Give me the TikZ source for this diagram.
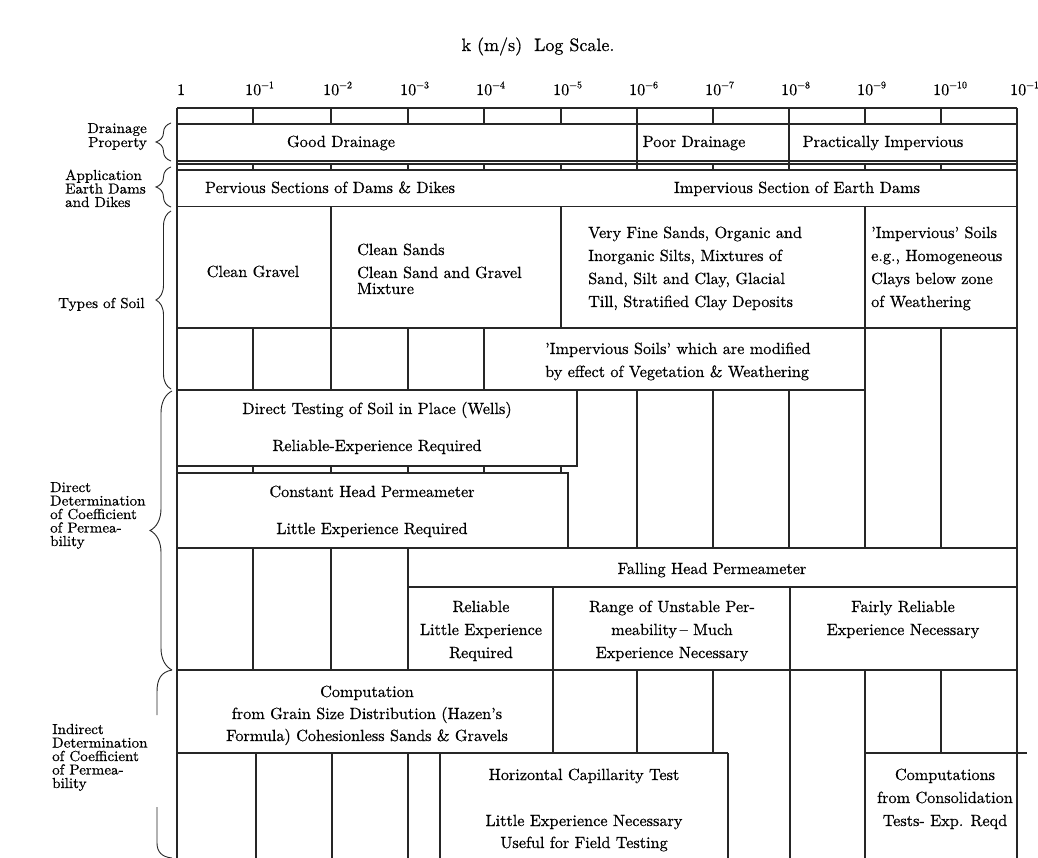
\documentclass[tikz,border=0pt]{standalone}
\usepackage{fontspec}
\setmainfont{lmroman10-regular.otf}[FakeBold=0.6]
\newfontfamily\sidefnt{lmroman10-regular.otf}[FakeStretch=1.04,FakeBold=0.6]
\usetikzlibrary{decorations.pathreplacing}
\newcommand\tkx[1]{10\raisebox{0.42em}{\fontsize{10}{10}\selectfont −#1}}
\begin{document}
\begin{tikzpicture}[x=1pt,y=-1pt,
  grid/.style={line width=1.1pt, black!85},
  cell/.style={font=\fontsize{16.2}{23}\selectfont, inner sep=0pt, anchor=base, align=center},
  cellL/.style={font=\fontsize{16.2}{23}\selectfont, inner sep=0pt, anchor=base west, align=left},
  side/.style={font=\sidefnt\fontsize{14.5}{13.5}\selectfont, inner sep=0pt, anchor=base west, align=left},
  tick/.style={font=\fontsize{16}{18}\selectfont, inner sep=0pt, anchor=base west},
  brc/.style={decorate, decoration={brace, amplitude=#1}, line width=0.9pt, black!85},
  brl/.style={line width=0.9pt, black!85},
]
\useasboundingbox (0,0) rectangle (1038,858);
\fill[white] (0,0) rectangle (1038,858);
\clip (0,0) rectangle (1038,858);

% ---------- title and scale ----------
\node[cell, font=\fontsize{18}{20}\selectfont] (title) at (538,51) {k (m/s)\ \ Log Scale.};
\node[tick] (t0) at (177,95) {1};
\foreach \x/\n [count=\i] in {253/1,331/2,408/3,484/4,561/5,637/6,713/7,789/8,865/9,941/10,1018/11}
  \node[tick] (t\i) at (\x-8,95) {\tkx{\n}};

% ---------- grid ----------
\draw[grid] (177,108) -- (177,862);
\draw[grid] (1017,108) -- (1017,862);
\draw[grid] (177,108) -- (1017,108);
\draw[grid] (177,124) -- (1017,124);
\foreach \x in {253,331,408,484,561,637,713,789,865,941} \draw[grid] (\x,108) -- (\x,124);
\draw[grid] (637,124) -- (637,170);
\draw[grid] (789,124) -- (789,170);
\draw[grid] (177,161) -- (1017,161);
\draw[grid] (177,164) -- (1017,164);
\draw[grid] (177,170) -- (1017,170);
\foreach \x in {253,331,408,484,561,713,865,941} \draw[grid] (\x,164) -- (\x,170);
\draw[grid] (177,206.5) -- (1017,206.5);
% soil rows
\draw[grid] (331,206.5) -- (331,390);
\draw[grid] (561,206.5) -- (561,328);
\draw[grid] (865,206.5) -- (865,548);
\draw[grid] (177,328) -- (1017,328);
\foreach \x in {253,408,484} \draw[grid] (\x,328) -- (\x,390);
\draw[grid] (941,328) -- (941,548);
\draw[grid] (177,390) -- (865,390);
% direct determination
\draw[grid] (577,390) -- (577,466) -- (177,466);
\draw[grid] (177,473) -- (568,473) -- (568,548);
\foreach \x in {253,331,408,484,561} \draw[grid] (\x,466) -- (\x,473);
\foreach \x in {637,713,789} \draw[grid] (\x,390) -- (\x,548);
\draw[grid] (177,548) -- (1017,548);
\foreach \x in {253,331,408} \draw[grid] (\x,548) -- (\x,670);
\draw[grid] (408,587) -- (1017,587);
\draw[grid] (553,587) -- (553,670);
\draw[grid] (790,587) -- (790,670);
\draw[grid] (177,670) -- (1017,670);
% indirect determination
\draw[grid] (553,670) -- (553,753);
\foreach \x in {637,713,941} \draw[grid] (\x,670) -- (\x,753);
\draw[grid] (790,670) -- (790,862);
\draw[grid] (865,670) -- (865,862);
\draw[grid] (177,753) -- (728,753);
\draw[grid] (865,753) -- (1027,753);
\foreach \x in {256,332,408,440,728} \draw[grid] (\x,753) -- (\x,862);

% ---------- cell texts (anchor = baseline of the last line) ----------
\node[cell] (good) at (341,147) {Good Drainage};
\node[cell] (poor) at (694,147) {Poor Drainage};
\node[cell] (prac) at (883,147) {Practically Impervious};
\node[cell] (perv) at (330,193) {Pervious Sections of Dams \& Dikes};
\node[cell] (impsec) at (797,193) {Impervious Section of Earth Dams};
\node[cell] (gravel) at (253,277) {Clean Gravel};
\node[cellL] (sands) at (357,294) {Clean Sands\\Clean Sand and Gravel\\[-7pt]Mixture};
\node[cellL] (fine) at (588,307) {Very Fine Sands, Organic and\\Inorganic Silts, Mixtures of\\Sand, Silt and Clay, Glacial\\Till, Stratified Clay Deposits};
\node[cellL] (imps) at (871,307) {'Impervious' Soils\\e.g., Homogeneous\\Clays below zone\\of Weathering};
\node[cellL] (veg) at (545,377) {'Impervious Soils' which are modified\\by effect of Vegetation \& Weathering};
\node[cell] (wells) at (377,451) {Direct Testing of Soil in Place (Wells)\\[14pt]Reliable-Experience Required};
\node[cell] (const) at (372,534) {Constant Head Permeameter\\[14pt]Little Experience Required};
\node[cell] (fall) at (712,574) {Falling Head Permeameter};
\node[cell] (rel) at (481,658) {Reliable\\Little Experience\\Required};
\node[cell] (range) at (672,658) {Range of Unstable Per-\\meability{\,}– Much\\Experience Necessary};
\node[cell] (fair) at (903,635) {Fairly Reliable\\Experience Necessary};
\node[cell, font=\fontsize{16.2}{22}\selectfont] (hazen) at (367,741) {Computation\\from Grain Size Distribution (Hazen's\\Formula) Cohesionless Sands \& Gravels};
\node[cell] (capil) at (584,848) {Horizontal Capillarity Test\\[23pt]Little Experience Necessary\\[-1pt]Useful for Field Testing};
\node[cell] (consol) at (945,826) {Computations\\from Consolidation\\Tests- Exp. Reqd};

% ---------- side labels and braces ----------
\node[side, anchor=base east, align=right] (lbdrain) at (147,147) {Drainage\\[0.5pt]Property};
\node[side] (lbapp) at (65,207) {Application\\Earth Dams\\and Dikes};
\node[side] (lbsoil) at (58,308) {Types of Soil};
\node[side] (lbdir) at (50,546) {Direct\\Determination\\of Coefficient\\of Permea-\\bility};
\node[side] (lbind) at (52,788) {Indirect\\Determination\\of Coefficient\\of Permea-\\bility};

\coordinate (b1a) at (171,161); \coordinate (b1b) at (171,123);
\coordinate (b2a) at (171,207); \coordinate (b2b) at (171,167);
\coordinate (b3a) at (171,389); \coordinate (b3b) at (171,211);
\coordinate (b4a) at (172,670); \coordinate (b4b) at (172,391);
\draw[brc=15pt] (b1a) -- (b1b);
\draw[brc=15pt] (b2a) -- (b2b);
\draw[brc=15pt] (b3a) -- (b3b);
\draw[brc=22pt] (b4a) -- (b4b);
\coordinate (b5a) at (172,670); \coordinate (b5b) at (157,715);
\coordinate (b5c) at (157,807); \coordinate (b5d) at (172,858);
\draw[brl] (b5a) .. controls (161,672) and (157,679) .. (157,692) -- (b5b);
\draw[brl] (b5c) -- (157,843) .. controls (157,852) and (162,857) .. (b5d);
\end{tikzpicture}
\end{document}
